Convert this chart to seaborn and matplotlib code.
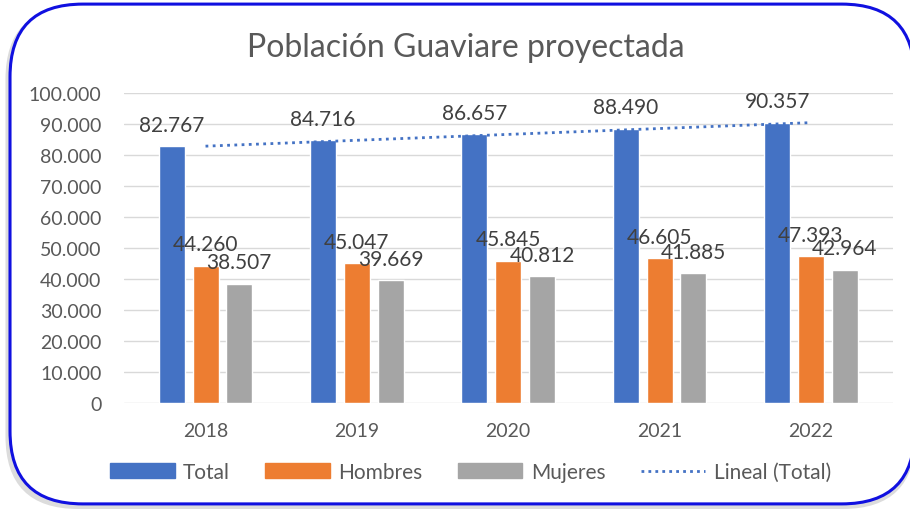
import numpy as np
import pandas as pd
import matplotlib
matplotlib.use("Agg")
import matplotlib.pyplot as plt
import seaborn as sns
from matplotlib.patches import FancyBboxPatch
from matplotlib.lines import Line2D
from matplotlib.ticker import FuncFormatter

sns.set_theme(style="white")
plt.rcParams['font.family'] = ['Lato', 'DejaVu Sans']

# Datos
years = ["2018", "2019", "2020", "2021", "2022"]
total = [82767, 84716, 86657, 88490, 90357]
hombres = [44260, 45047, 45845, 46605, 47393]
mujeres = [38507, 39669, 40812, 41885, 42964]
series = ["Total", "Hombres", "Mujeres"]
colors = ["#4472C4", "#ED7D31", "#A5A5A5"]

df = pd.DataFrame({
    "Año": years * 3,
    "Serie": [s for s in series for _ in years],
    "Población": total + hombres + mujeres,
})

def miles(v, pos=None):
    return f"{int(v):,}".replace(",", ".")

fig = plt.figure(figsize=(9.1, 5.1), dpi=100)

# marco redondeado con sombra
shadow = FancyBboxPatch((0.006, 0.0), 1.0, 0.985, boxstyle="round,pad=0,rounding_size=0.08",
                        transform=fig.transFigure, facecolor="#dcdcdc", edgecolor="none",
                        mutation_aspect=910 / 510, zorder=0)
frame = FancyBboxPatch((0.011, 0.01), 0.994, 0.98, boxstyle="round,pad=0,rounding_size=0.08",
                       transform=fig.transFigure, facecolor="white", edgecolor="#1010E0",
                       linewidth=2.2, mutation_aspect=910 / 510, zorder=1)
fig.patches.extend([shadow, frame])

ax = fig.add_axes([0.136, 0.208, 0.845, 0.608])
ax.set_zorder(2)
ax.patch.set_alpha(0)

sns.barplot(data=df, x="Año", y="Población", hue="Serie", palette=colors,
            width=0.67, gap=0.23, ax=ax, legend=False, saturation=1)

ax.set_ylim(0, 100000)
ax.set_yticks(np.arange(0, 100001, 10000))
ax.yaxis.set_major_formatter(FuncFormatter(miles))
ax.grid(axis="y", color="#d9d9d9", linewidth=1)
ax.set_axisbelow(True)
for s in ax.spines.values():
    s.set_visible(False)
ax.tick_params(axis="both", colors="#595959", labelsize=14, length=0)
ax.tick_params(axis="y", pad=16)
ax.tick_params(axis="x", pad=14)
ax.set_xlabel("")
ax.set_ylabel("")

# etiquetas de datos (se solapan como en el original)
for cont, name in zip(ax.containers, series):
    for bar in cont:
        h = bar.get_height()
        ax.annotate(miles(h), (bar.get_x() + bar.get_width() / 2, h),
                    xytext=(0, 11), textcoords="offset points",
                    ha="center", va="baseline", fontsize=15, color="#404040")

# línea de tendencia (Total)
xs = np.arange(len(years))
m, b = np.polyfit(xs, total, 1)
ax.plot(xs, m * xs + b, linestyle=(0, (1, 1.6)), color="#4472C4", linewidth=2)

fig.text(0.512, 0.906, "Población Guaviare proyectada", ha="center", va="center",
         fontsize=23, color="#595959")

handles = [
    plt.Rectangle((0, 0), 1, 1, color=colors[0]),
    plt.Rectangle((0, 0), 1, 1, color=colors[1]),
    plt.Rectangle((0, 0), 1, 1, color=colors[2]),
    Line2D([0], [0], linestyle=(0, (1, 1.5)), color="#4472C4", linewidth=2),
]
leg = fig.legend(handles, ["Total", "Hombres", "Mujeres", "Lineal (Total)"],
                 loc="center", bbox_to_anchor=(0.517, 0.073), ncol=4, frameon=False,
                 fontsize=15, handlelength=3.1, handleheight=0.67, columnspacing=1.7,
                 handletextpad=0.4, labelcolor="#595959")

fig.savefig("out.png", dpi=100)
